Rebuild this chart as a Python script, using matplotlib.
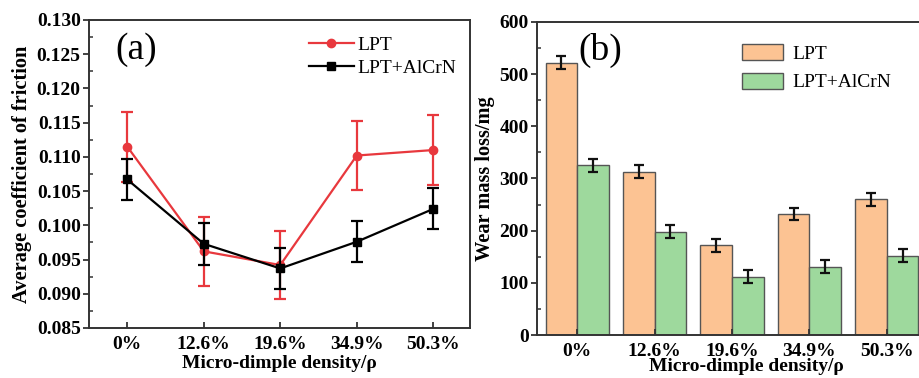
import matplotlib
matplotlib.use("Agg")
import matplotlib.pyplot as plt
import numpy as np
from matplotlib.ticker import MultipleLocator
from matplotlib.lines import Line2D

plt.rcParams['font.family'] = ['Liberation Serif', 'DejaVu Serif']
plt.rcParams['mathtext.fontset'] = 'stix'

categories = ['0%', '12.6%', '19.6%', '34.9%', '50.3%']
cof_lpt = [0.1115, 0.0962, 0.0942, 0.1102, 0.1110]
cof_lpt_err = [0.0051, 0.0050, 0.0050, 0.0050, 0.0051]
cof_alcrn = [0.1067, 0.0973, 0.0937, 0.0976, 0.1024]
cof_alcrn_err = [0.0030, 0.0031, 0.0030, 0.0030, 0.0030]
wear_lpt = [522, 313, 172, 232, 260]
wear_lpt_err = [12, 12, 12, 12, 12]
wear_alcrn = [325, 198, 112, 131, 152]
wear_alcrn_err = [12, 12, 12, 12, 12]

W, H = 920, 378
fig = plt.figure(figsize=(W/100, H/100), dpi=100)

spine_c = '#333333'
red = '#E8383D'

# ---- panel (a)
ax1 = fig.add_axes([89/W, 1-328/H, 381/W, 308/H])
x = np.arange(len(categories))
ax1.errorbar(x, cof_lpt, yerr=cof_lpt_err, color=red, marker='o', ms=6,
             lw=1.6, capsize=4, elinewidth=1.6, capthick=1.6, zorder=3)
ax1.errorbar(x, cof_alcrn, yerr=cof_alcrn_err, color='black', marker='s', ms=5.5,
             lw=1.6, capsize=4, elinewidth=1.6, capthick=1.6, zorder=4)
ax1.set_xlim(-0.5, 4.48)
ax1.set_ylim(0.085, 0.130)
ax1.yaxis.set_major_locator(MultipleLocator(0.005))
ax1.yaxis.set_minor_locator(MultipleLocator(0.0025))
ax1.set_xticks(x)
ax1.set_xticklabels(categories)
ax1.set_yticklabels([f'{v:.3f}' for v in ax1.get_yticks()])
ax1.set_ylim(0.085, 0.130)
ax1.set_xlabel('Micro-dimple density/ρ', fontsize=14, fontweight='bold', labelpad=1)
ax1.set_ylabel('Average coefficient of friction', fontsize=14.7, fontweight='bold', labelpad=3)
ax1.text(0.07, 0.96, '(a)', transform=ax1.transAxes, fontsize=27, va='top', ha='left')
handles = [Line2D([], [], color=red, marker='o', ms=6, lw=1.6),
           Line2D([], [], color='black', marker='s', ms=5.5, lw=1.6)]
ax1.legend(handles, ['LPT', 'LPT+AlCrN'], loc='upper right', frameon=False, fontsize=14,
           handlelength=2.3, labelspacing=0.25, handletextpad=0.2, borderaxespad=0.3,
           bbox_to_anchor=(1.0, 0.99))

# ---- panel (b)
ax2 = fig.add_axes([537/W, 1-335/H, 390/W, 313/H])
bw = 0.41
ax2.bar(x - bw/2, wear_lpt, bw, yerr=wear_lpt_err, color='#FCC393', edgecolor='#555555',
        linewidth=1.0, capsize=3.5, error_kw=dict(elinewidth=1.6, capthick=1.6, ecolor='#111111'),
        label='LPT')
ax2.bar(x + bw/2, wear_alcrn, bw, yerr=wear_alcrn_err, color='#9ED99D', edgecolor='#555555',
        linewidth=1.0, capsize=3.5, error_kw=dict(elinewidth=1.6, capthick=1.6, ecolor='#111111'),
        label='LPT+AlCrN')
ax2.set_xlim(-0.52, 4.52)
ax2.set_ylim(0, 600)
ax2.yaxis.set_major_locator(MultipleLocator(100))
ax2.yaxis.set_minor_locator(MultipleLocator(50))
ax2.set_xticks(x)
ax2.set_xticklabels(categories)
ax2.set_xlabel('Micro-dimple density/ρ', fontsize=14, fontweight='bold')
ax2.xaxis.set_label_coords(0.536, -0.075)
ax2.set_ylabel('Wear mass loss/mg', fontsize=14.7, fontweight='bold', labelpad=3)
ax2.text(0.105, 0.965, '(b)', transform=ax2.transAxes, fontsize=27, va='top', ha='left')
ax2.legend(loc='upper left', bbox_to_anchor=(0.48, 0.985), frameon=False, fontsize=14,
           handlelength=2.1, handleheight=0.9, labelspacing=0.5, handletextpad=0.5)

for ax in (ax1, ax2):
    for s in ax.spines.values():
        s.set_color(spine_c)
        s.set_linewidth(1.4)
    ax.tick_params(axis='y', which='major', direction='out', length=4, width=1.3,
                   labelsize=14, pad=2, color=spine_c)
    ax.tick_params(axis='y', which='minor', direction='in', length=3, width=1.1, color=spine_c)
    ax.tick_params(axis='x', which='major', direction='in', length=4, width=1.3,
                   labelsize=14, pad=6, color=spine_c)
    for lab in ax.get_xticklabels() + ax.get_yticklabels():
        lab.set_fontweight('bold')

fig.savefig('out.png', dpi=100)
